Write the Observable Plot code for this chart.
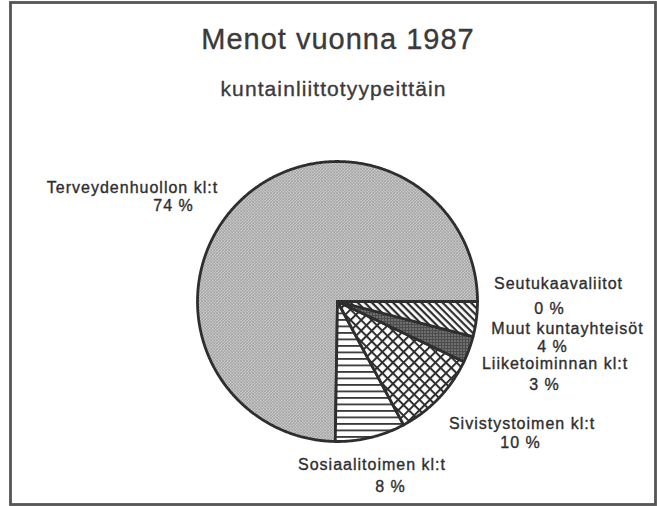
<!DOCTYPE html>
<html><head><meta charset="utf-8">
<script src="https://cdn.jsdelivr.net/npm/d3@7"></script>
<script src="https://cdn.jsdelivr.net/npm/@observablehq/plot@0.6"></script>
<style>
html,body{margin:0;padding:0;background:#fff;}
#chart svg{display:block;}
#chart g[font-size="16"] text{letter-spacing:1px;}
#chart g[font-size="29"] text{letter-spacing:1px;}
#chart g[font-size="21"] text{letter-spacing:1.1px;}
</style></head><body><div id="chart"></div>
<script>
// ---- data ----
const title = "Menot vuonna 1987";
const subtitle = "kuntainliittotyypeittäin";
const categories = ["Terveydenhuollon kl:t", "Sosiaalitoimen kl:t", "Sivistystoimen kl:t", "Liiketoiminnan kl:t", "Muut kuntayhteisöt", "Seutukaavaliitot"];
const values = [74, 8, 10, 3, 4, 0];
const percentLabels = ["74 %", "8 %", "10 %", "3 %", "4 %", "0 %"];

// ---- layout (pixels) ----
const W = 657, H = 506;
const cx = 337, cy = 301, R = 140;
const fills = ["url(#p-stipple)", "url(#p-hlines)", "url(#p-cross)", "url(#p-dense)", "url(#p-diag)", "#222"];
const nameAt = [[132,192],[371.5,469],[521.5,428],[554.5,368],[567,333],[558,288]];
const pctAt = [[173,210],[390,491],[520,447],[544,389],[552,351],[549,313]];

const total = d3.sum(values);
let acc = 0;
const slices = categories.map((name, i) => {
  const a0 = acc / total * 2 * Math.PI; acc += values[i]; const a1 = acc / total * 2 * Math.PI;
  const pts = [{x: cx, y: cy}];
  const n = Math.max(2, Math.ceil((a1 - a0) / (Math.PI / 360)));
  for (let k = 0; k <= n; k++) {
    const a = a0 + (a1 - a0) * k / n;
    pts.push({x: cx + R * Math.cos(a), y: cy - R * Math.sin(a)});
  }
  return {name, pts, fill: fills[i]};
});

const nameLabels = categories.map((c, i) => ({text: c, x: nameAt[i][0], y: nameAt[i][1]}));
const pctLabels = percentLabels.map((t, i) => ({text: t, x: pctAt[i][0], y: pctAt[i][1]}));
const titles = [{text: title, x: 337.5, y: 48}];
const subtitles = [{text: subtitle, x: 333, y: 95}];

const textColor = "#2e2e2e";
const font = "Liberation Sans, Arial, Helvetica, sans-serif";
const txt = (data, size, color) => Plot.text(data, {x: "x", y: "y", text: "text", fontSize: size, lineAnchor: "bottom", fill: color, stroke: color, strokeWidth: 0.35, fontFamily: font});

const svg = Plot.plot({
  width: W, height: H,
  marginLeft: 10, marginTop: 2, marginRight: 2, marginBottom: 2,
  x: {domain: [0, W], range: [0, W], axis: null},
  y: {domain: [0, H], range: [0, H], axis: null},
  style: {fontFamily: font, background: "#fff"},
  marks: [
    Plot.frame({stroke: "#555", strokeWidth: 2.8}),
    ...slices.map(s => Plot.line(s.pts, {x: "x", y: "y", curve: "linear-closed", fill: s.fill, stroke: "#2e2e2e", strokeWidth: 2.8, strokeLinejoin: "round"})),
    txt(titles, 29, "#3a3a3a"),
    txt(subtitles, 21, "#3a3a3a"),
    txt(nameLabels, 16, textColor),
    txt(pctLabels, 16, textColor)
  ]
});

const defs = d3.select(svg).insert("defs", ":first-child");
defs.html(`
<pattern id="p-stipple" patternUnits="userSpaceOnUse" width="3" height="3">
  <rect width="3" height="3" fill="#fff"/>
  <rect x="0" y="0" width="1.4" height="1.4" fill="#555"/>
  <rect x="1.5" y="1.5" width="1.4" height="1.4" fill="#555"/>
</pattern>
<pattern id="p-dense" patternUnits="userSpaceOnUse" width="3" height="3">
  <rect width="3" height="3" fill="#4a4a4a"/>
  <rect x="1" y="1" width="1.1" height="1.1" fill="#ccc"/>
</pattern>
<pattern id="p-hlines" patternUnits="userSpaceOnUse" width="10" height="6.5">
  <rect width="10" height="6.5" fill="#fff"/>
  <rect x="0" y="0" width="10" height="1.8" fill="#3a3a3a"/>
</pattern>
<pattern id="p-diag" patternUnits="userSpaceOnUse" width="5" height="5" patternTransform="rotate(45)">
  <rect width="5" height="5" fill="#fff"/>
  <rect x="0" y="0" width="5" height="2.2" fill="#2e2e2e"/>
</pattern>
<pattern id="p-cross" patternUnits="userSpaceOnUse" width="7.5" height="7.5" patternTransform="rotate(45)">
  <rect width="7.5" height="7.5" fill="#fff"/>
  <rect x="0" y="0" width="7.5" height="2" fill="#2e2e2e"/>
  <rect x="0" y="0" width="2" height="7.5" fill="#2e2e2e"/>
</pattern>`);

document.getElementById("chart").appendChild(svg);
</script>
</body></html>
